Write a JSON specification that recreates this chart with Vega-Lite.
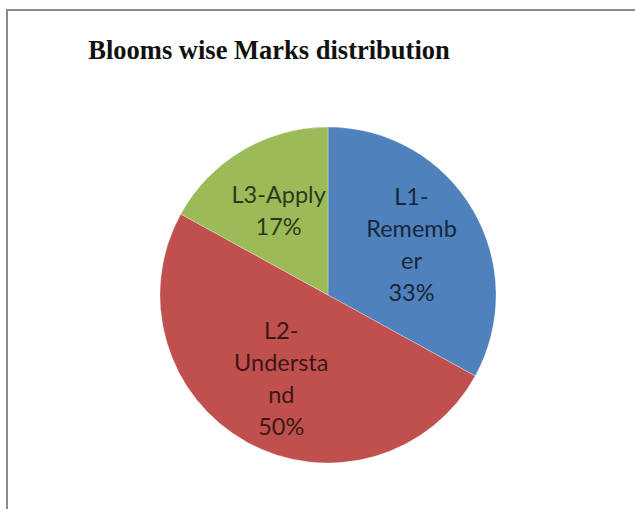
{
  "$schema": "https://vega.github.io/schema/vega-lite/v6.json",
  "autosize": "none",
  "width": 642,
  "height": 570,
  "padding": {"left": 7, "top": 10, "right": -14, "bottom": -71},
  "background": "white",
  "title": {
    "text": "Blooms wise Marks distribution",
    "font": "Liberation Serif",
    "fontSize": 26.5,
    "fontWeight": "bold",
    "color": "#111111",
    "anchor": "middle",
    "frame": "group",
    "baseline": "alphabetic",
    "offset": 0,
    "dy": 75,
    "dx": -59
  },
  "view": {"stroke": "#8a8a8a", "strokeWidth": 2},
  "data": {
    "values": [
      {"level": "L1-Remember", "marks": 33, "label": ["L1-", "Rememb", "er", "33%"]},
      {"level": "L2-Understand", "marks": 50, "label": ["L2-", "Understa", "nd", "50%"]},
      {"level": "L3-Apply", "marks": 17, "label": ["L3-Apply", "17%"]}
    ]
  },
  "encoding": {
    "theta": {"field": "marks", "type": "quantitative", "stack": true},
    "color": {
      "field": "level",
      "type": "nominal",
      "sort": ["L1-Remember", "L2-Understand", "L3-Apply"],
      "scale": {
        "domain": ["L1-Remember", "L2-Understand", "L3-Apply"],
        "range": ["#4F81BD", "#C0504D", "#9BBB59"]
      },
      "legend": null
    },
    "order": {"field": "level", "type": "nominal", "sort": "ascending"}
  },
  "layer": [
    {"mark": {"type": "arc", "outerRadius": 168, "stroke": "#ffffff", "strokeWidth": 0.3}},
    {
      "mark": {
        "type": "text",
        "radius": 97,
        "font": "Lato",
        "fontSize": 23.5,
        "lineHeight": 32,
        "align": "center",
        "baseline": "middle",
        "dy": {"expr": "-(length(datum.label) - 1) * 16"},
        "fill": "#000000",
        "opacity": 0.7
      },
      "encoding": {
        "text": {"field": "label"},
        "color": {"value": "#000000"}
      }
    }
  ]
}
